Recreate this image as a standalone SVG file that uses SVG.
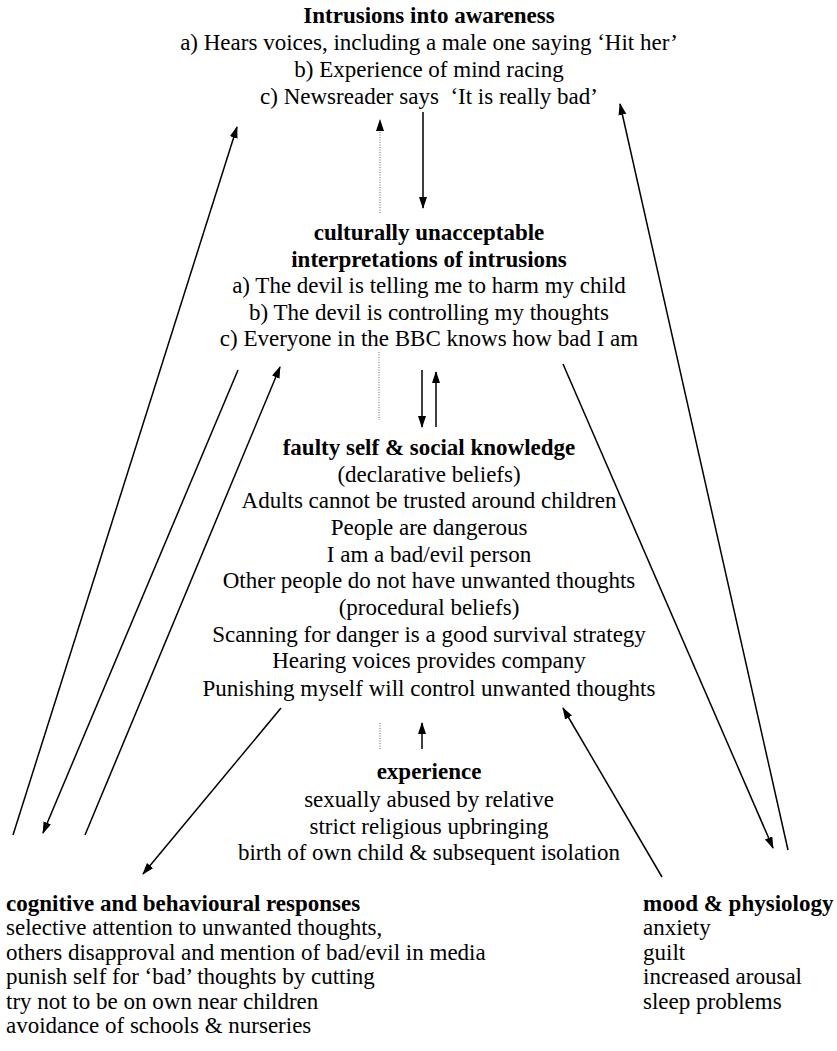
<svg xmlns="http://www.w3.org/2000/svg" width="837" height="1051" viewBox="0 0 837 1051">
<style>
text{font-family:"Liberation Serif","Times New Roman",serif;font-size:23px;fill:#000}
.c{text-anchor:middle}
.b{font-weight:bold}
.ln{stroke:#000;stroke-width:1.5;fill:none}
.dot{stroke:#666;stroke-width:1;stroke-dasharray:1 1.5;fill:none}
</style>
<defs>
<marker id="ah" markerUnits="userSpaceOnUse" markerWidth="12" markerHeight="10" refX="11" refY="4" orient="auto">
<path d="M0,0 L12,4 L0,8 Z" fill="#000"/>
</marker>
</defs>
<rect width="837" height="1051" fill="#fff"/>
<g id="intrusions">
<text class="c b" x="429" y="23">Intrusions into awareness</text>
<text class="c" x="429" y="50">a) Hears voices, including a male one saying ‘Hit her’</text>
<text class="c" x="429" y="77">b) Experience of mind racing</text>
<text class="c" x="429" y="104" xml:space="preserve">c) Newsreader says  ‘It is really bad’</text>
</g>
<g id="interpretations">
<text class="c b" x="429" y="240">culturally unacceptable</text>
<text class="c b" x="429" y="267">interpretations of intrusions</text>
<text class="c" x="429" y="293">a) The devil is telling me to harm my child</text>
<text class="c" x="429" y="320">b) The devil is controlling my thoughts</text>
<text class="c" x="429" y="346">c) Everyone in the BBC knows how bad I am</text>
</g>
<g id="knowledge">
<text class="c b" x="429" y="455">faulty self &amp; social knowledge</text>
<text class="c" x="429" y="482">(declarative beliefs)</text>
<text class="c" x="429" y="508">Adults cannot be trusted around children</text>
<text class="c" x="429" y="535">People are dangerous</text>
<text class="c" x="429" y="562">I am a bad/evil person</text>
<text class="c" x="429" y="588">Other people do not have unwanted thoughts</text>
<text class="c" x="429" y="615">(procedural beliefs)</text>
<text class="c" x="429" y="642">Scanning for danger is a good survival strategy</text>
<text class="c" x="429" y="668">Hearing voices provides company</text>
<text class="c" x="429" y="696">Punishing myself will control unwanted thoughts</text>
</g>
<g id="experience">
<text class="c b" x="429" y="779">experience</text>
<text class="c" x="429" y="807">sexually abused by relative</text>
<text class="c" x="429" y="834">strict religious upbringing</text>
<text class="c" x="429" y="860">birth of own child &amp; subsequent isolation</text>
</g>
<g id="responses">
<text class="b" x="6" y="911">cognitive and behavioural responses</text>
<text x="6" y="935">selective attention to unwanted thoughts,</text>
<text x="6" y="960">others disapproval and mention of bad/evil in media</text>
<text x="6" y="984">punish self for ‘bad’ thoughts by cutting</text>
<text x="6" y="1009">try not to be on own near children</text>
<text x="6" y="1033">avoidance of schools &amp; nurseries</text>
</g>
<g id="mood">
<text class="b" x="643" y="911">mood &amp; physiology</text>
<text x="643" y="935">anxiety</text>
<text x="643" y="960">guilt</text>
<text x="643" y="984">increased arousal</text>
<text x="643" y="1009">sleep problems</text>
</g>
<g id="connectors">
<line class="ln" x1="13" y1="835" x2="237" y2="127" marker-end="url(#ah)"/>
<line class="ln" x1="238" y1="370" x2="43" y2="833" marker-end="url(#ah)"/>
<line class="ln" x1="85" y1="835" x2="280" y2="367" marker-end="url(#ah)"/>
<line class="ln" x1="281" y1="708" x2="143" y2="874" marker-end="url(#ah)"/>
<line class="ln" x1="662" y1="877" x2="563" y2="708" marker-end="url(#ah)"/>
<line class="ln" x1="788" y1="850" x2="620" y2="104" marker-end="url(#ah)"/>
<line class="ln" x1="563" y1="364" x2="773" y2="848" marker-end="url(#ah)"/>
<line class="ln" x1="423" y1="112" x2="423" y2="208" marker-end="url(#ah)"/>
<line class="dot" x1="380" y1="213" x2="380" y2="120" marker-end="url(#ah)"/>
<line class="dot" x1="379" y1="352" x2="379" y2="420"/>
<line class="ln" x1="422" y1="370" x2="422" y2="427" marker-end="url(#ah)"/>
<line class="ln" x1="436" y1="427" x2="436" y2="372" marker-end="url(#ah)"/>
<line class="dot" x1="380" y1="723" x2="380" y2="750"/>
<line class="ln" x1="422" y1="749" x2="422" y2="723" marker-end="url(#ah)"/>
</g>
</svg>
